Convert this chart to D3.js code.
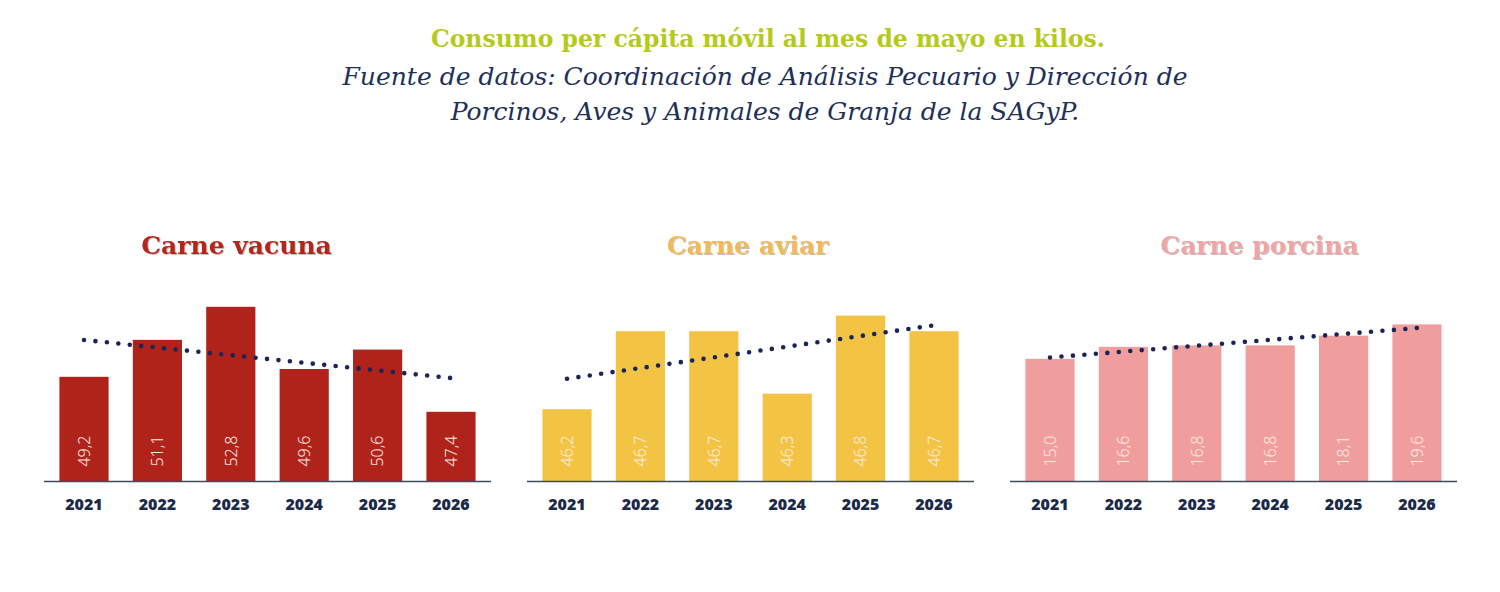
<!DOCTYPE html>
<html>
<head>
<meta charset="utf-8">
<script src="https://cdn.jsdelivr.net/npm/d3@7"></script>
<style>
  body { margin: 0; background: #fff; }
</style>
</head>
<body>
<div id="chart"></div>
<script>
(function () {

    // data
    var years = ["2021", "2022", "2023", "2024", "2025", "2026"];
    var vacuna = [49.2, 51.1, 52.8, 49.6, 50.6, 47.4];
    var aviar = [46.2, 46.7, 46.7, 46.3, 46.8, 46.7];
    var porcina = [15.0, 16.6, 16.8, 16.8, 18.1, 19.6];

    var panelNames = ["Carne vacuna", "Carne aviar", "Carne porcina"];
    // the y axes of the original do not start at zero
    var yDomains = [[43.84, 53.15], [45.74, 46.90], [-1.31, 22.86]];

    var title = "Consumo per cápita móvil al mes de mayo en kilos.";
    var subtitle = ["Fuente de datos: Coordinación de Análisis Pecuario y Dirección de",
        "Porcinos, Aves y Animales de Granja de la SAGyP."];

    var series = [vacuna, aviar, porcina];

    var W = 1500, H = 592;
    var barColors = ["#b0231a", "#f3c444", "#f09e9d"];
    var titleColors = ["#b3261d", "#f2b95a", "#f0a4a3"];
    var panelLeft = [44, 527, 1010];
    var panelWidth = 447;
    var titleShift = [-31, -3, 26];
    var baseY = 481, topY = 300;

    var svg = d3.select("#chart")
        .append("svg")
        .attr("width", W)
        .attr("height", H);

    var defs = svg.append("defs");
    defs.append("filter")
        .attr("id", "shadow")
        .attr("x", "-5%").attr("y", "-20%")
        .attr("width", "110%").attr("height", "140%")
        .append("feDropShadow")
        .attr("dx", 1).attr("dy", 1)
        .attr("stdDeviation", 0.6)
        .attr("flood-color", "#000")
        .attr("flood-opacity", 0.25);

    // titles
    svg.append("text")
        .attr("x", 768)
        .attr("y", 47)
        .attr("text-anchor", "middle")
        .style("font-family", "DejaVu Serif")
        .style("font-weight", "bold")
        .style("font-size", "23.5px")
        .style("fill", "#b5ca1b")
        .text(title);

    svg.selectAll(".subtitle")
        .data(subtitle)
        .enter()
        .append("text")
        .attr("class", "subtitle")
        .attr("x", 765)
        .attr("y", function (d, i) { return 85 + i * 35; })
        .attr("text-anchor", "middle")
        .style("font-family", "DejaVu Serif")
        .style("font-style", "italic")
        .style("font-size", "25px")
        .style("fill", "#1e3057")
        .text(function (d) { return d; });

    var fmt = function (v) { return d3.format(".1f")(v).replace(".", ","); };

    series.forEach(function (data, p) {
        var g = svg.append("g")
            .attr("transform", "translate(" + panelLeft[p] + ",0)");

        var x = d3.scaleBand()
            .domain(years)
            .range([0, panelWidth])
            .paddingInner(0.33)
            .paddingOuter(0.21);

        var y = d3.scaleLinear()
            .domain(yDomains[p])
            .range([baseY, topY]);

        // panel title
        g.append("text")
            .attr("x", panelWidth / 2 + titleShift[p])
            .attr("y", 254)
            .attr("text-anchor", "middle")
            .attr("filter", "url(#shadow)")
            .style("font-family", "DejaVu Serif")
            .style("font-weight", "bold")
            .style("font-size", "25px")
            .style("fill", titleColors[p])
            .text(panelNames[p]);

        // bars
        g.selectAll("rect")
            .data(data)
            .enter()
            .append("rect")
            .attr("x", function (d, i) { return x(years[i]); })
            .attr("y", function (d) { return y(d); })
            .attr("width", x.bandwidth())
            .attr("height", function (d) { return baseY - y(d); })
            .attr("fill", barColors[p]);

        // value labels, rotated
        g.selectAll(".val")
            .data(data)
            .enter()
            .append("text")
            .attr("class", "val")
            .attr("transform", function (d, i) {
                var cx = x(years[i]) + x.bandwidth() / 2;
                return "translate(" + cx + ",451) rotate(-90)";
            })
            .attr("text-anchor", "middle")
            .attr("dy", "0.36em")
            .style("font-family", "Noto Sans")
            .style("font-weight", 300)
            .style("font-size", "16px")
            .style("fill", "#f8ebe2")
            .text(function (d) { return fmt(d); });

        // x axis line
        g.append("line")
            .attr("x1", 0)
            .attr("x2", panelWidth)
            .attr("y1", baseY + 0.5)
            .attr("y2", baseY + 0.5)
            .attr("stroke", "#3f4b5a")
            .attr("stroke-width", 1.6);

        // year labels
        g.selectAll(".year")
            .data(years)
            .enter()
            .append("text")
            .attr("class", "year")
            .attr("x", function (d) { return x(d) + x.bandwidth() / 2; })
            .attr("y", 510)
            .attr("text-anchor", "middle")
            .style("font-family", "Noto Sans")
            .style("font-weight", 900)
            .style("font-size", "16px")
            .style("fill", "#1b2a48")
            .text(function (d) { return d; });

        // linear trend (least squares over the six years)
        var idx = d3.range(data.length);
        var mx = d3.mean(idx), my = d3.mean(data);
        var slope = d3.sum(idx, function (i) { return (i - mx) * (data[i] - my); }) /
            d3.sum(idx, function (i) { return (i - mx) * (i - mx); });
        var icpt = my - slope * mx;
        var first = 0, last = data.length - 1;

        g.append("line")
            .attr("x1", x(years[first]) + x.bandwidth() / 2)
            .attr("y1", y(icpt + slope * first))
            .attr("x2", x(years[last]) + x.bandwidth() / 2)
            .attr("y2", y(icpt + slope * last))
            .attr("stroke", "#1a2557")
            .attr("stroke-width", 4.6)
            .attr("stroke-linecap", "round")
            .attr("stroke-dasharray", "0,11.5");
    });

})();
</script>
</body>
</html>
